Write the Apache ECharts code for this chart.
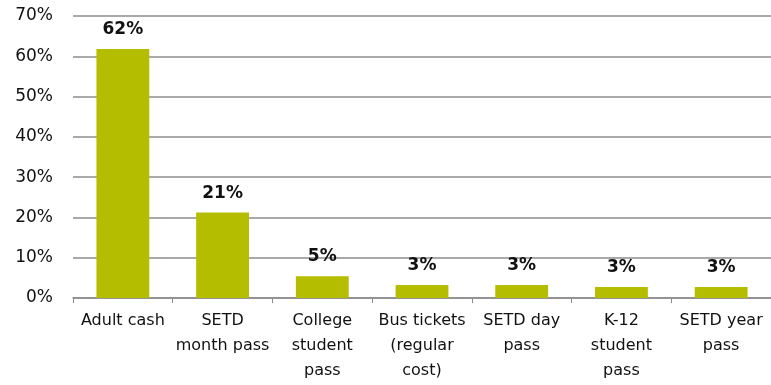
<!DOCTYPE html>
<html><head><meta charset="utf-8">
<script src="https://cdn.jsdelivr.net/npm/echarts@6/dist/echarts.min.js"></script>
<style>html,body{margin:0;padding:0;background:#fff}#c{width:771px;height:385px}</style>
</head><body><div id="c"></div>
<script>
const categories = ["Adult cash", "SETD\nmonth pass", "College\nstudent\npass", "Bus tickets\n(regular\ncost)", "SETD day\npass", "K-12\nstudent\npass", "SETD year\npass"];
const values = [61.8, 21.2, 5.4, 3.2, 3.2, 2.7, 2.7];
const yTicks = [0, 10, 20, 30, 40, 50, 60, 70];

const chart = echarts.init(document.getElementById('c'));
chart.setOption({
  animation: false,
  grid: {left: 73, right: -2, top: 16, bottom: 87, containLabel: false},
  xAxis: {
    type: 'category', data: categories,
    axisLine: {lineStyle: {color: '#8c8c8c', width: 1.5}},
    axisTick: {show: true, alignWithLabel: false, length: 5, lineStyle: {color: '#8c8c8c'}},
    axisLabel: {color: '#111', fontFamily: 'DejaVu Sans', fontSize: 16, lineHeight: 25, margin: 10, interval: 0}
  },
  yAxis: {
    type: 'value', min: 0, max: 70, interval: 10,
    axisLabel: {formatter: v => yTicks.includes(v) ? v + '%' : '', color: '#111', fontFamily: 'DejaVu Sans', fontSize: 17, margin: 20},
    splitLine: {lineStyle: {color: '#8c8c8c', width: 1.5}},
    axisLine: {show: false}, axisTick: {show: false}
  },
  series: [{
    type: 'bar', data: values, barWidth: '53%',
    itemStyle: {color: '#b5bd00'},
    label: {show: true, position: 'top', distance: 11, formatter: p => Math.round(p.value) + '%', fontFamily: 'DejaVu Sans', fontWeight: 'bold', fontSize: 17, color: '#111'}
  }]
});
</script></body></html>
